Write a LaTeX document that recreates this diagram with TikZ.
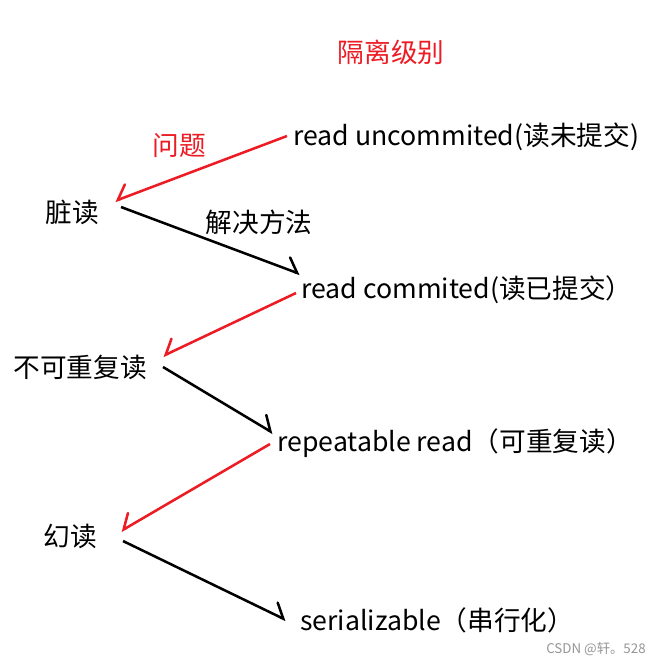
\documentclass[tikz,border=0pt]{standalone}
\usepackage{fontspec}
\setmainfont{Noto Sans CJK SC}
\usetikzlibrary{arrows.meta}
\definecolor{pred}{RGB}{237,28,36}
\definecolor{wm}{RGB}{150,150,150}
\tikzset{
  lbl/.style={inner sep=0pt, font=\fontsize{20}{24}\selectfont},
  redlbl/.style={lbl, text=pred},
  conn/.style={line width=1.9pt},
  prob/.style={conn, draw=pred, -{Straight Barb[harpoon, swap, length=9pt, angle'=90, line cap=round]}},
  fix/.style={conn, draw=black, -{Straight Barb[harpoon, length=9pt, angle'=90, line cap=round]}},
}
\begin{document}
\begin{tikzpicture}[x=0.75pt,y=-0.75pt]
\useasboundingbox (0,0) rectangle (667,665);
\fill[white] (0,0) rectangle (667,665);

\node[redlbl] (title) at (391,52) {隔离级别};
\node[redlbl] (wenti) at (179,146) {问题};
\node[lbl] (jjff) at (259,222) {解决方法};

\node[lbl, anchor=west] (ru) at (293,137) {read uncommited(读未提交)};
\node[lbl, anchor=west] (rc) at (301,290) {read commited(读已提交）};
\node[lbl, anchor=west] (rr) at (277,443) {repeatable read（可重复读）};
\node[lbl, anchor=west] (ser) at (300,620) {serializable（串行化）};

\node[lbl] (zang) at (72,212) {脏读};
\node[lbl] (bkcf) at (80,367) {不可重复读};
\node[lbl] (huan) at (70,536) {幻读};

\node[inner sep=0pt, text=wm, font=\fontsize{10}{12}\selectfont] (mark) at (596,649) {CSDN @轩。528};

% connector end points
\coordinate (ru-out) at (287,136);
\coordinate (zang-in) at (115,201);
\coordinate (zang-out) at (121,207);
\coordinate (rc-in) at (300,274);
\coordinate (rc-out) at (296,293);
\coordinate (bkcf-in) at (163,356);
\coordinate (bkcf-out) at (163,367);
\coordinate (rr-in) at (273,433);
\coordinate (rr-out) at (270,444);
\coordinate (huan-in) at (121,531);
\coordinate (huan-out) at (123,541);
\coordinate (ser-in) at (286,620);

\draw[prob] (ru-out) -- (zang-in);
\draw[fix] (zang-out) -- (rc-in);
\draw[prob] (rc-out) -- (bkcf-in);
\draw[fix] (bkcf-out) -- (rr-in);
\draw[prob] (rr-out) -- (huan-in);
\draw[fix] (huan-out) -- (ser-in);
\end{tikzpicture}
\end{document}
